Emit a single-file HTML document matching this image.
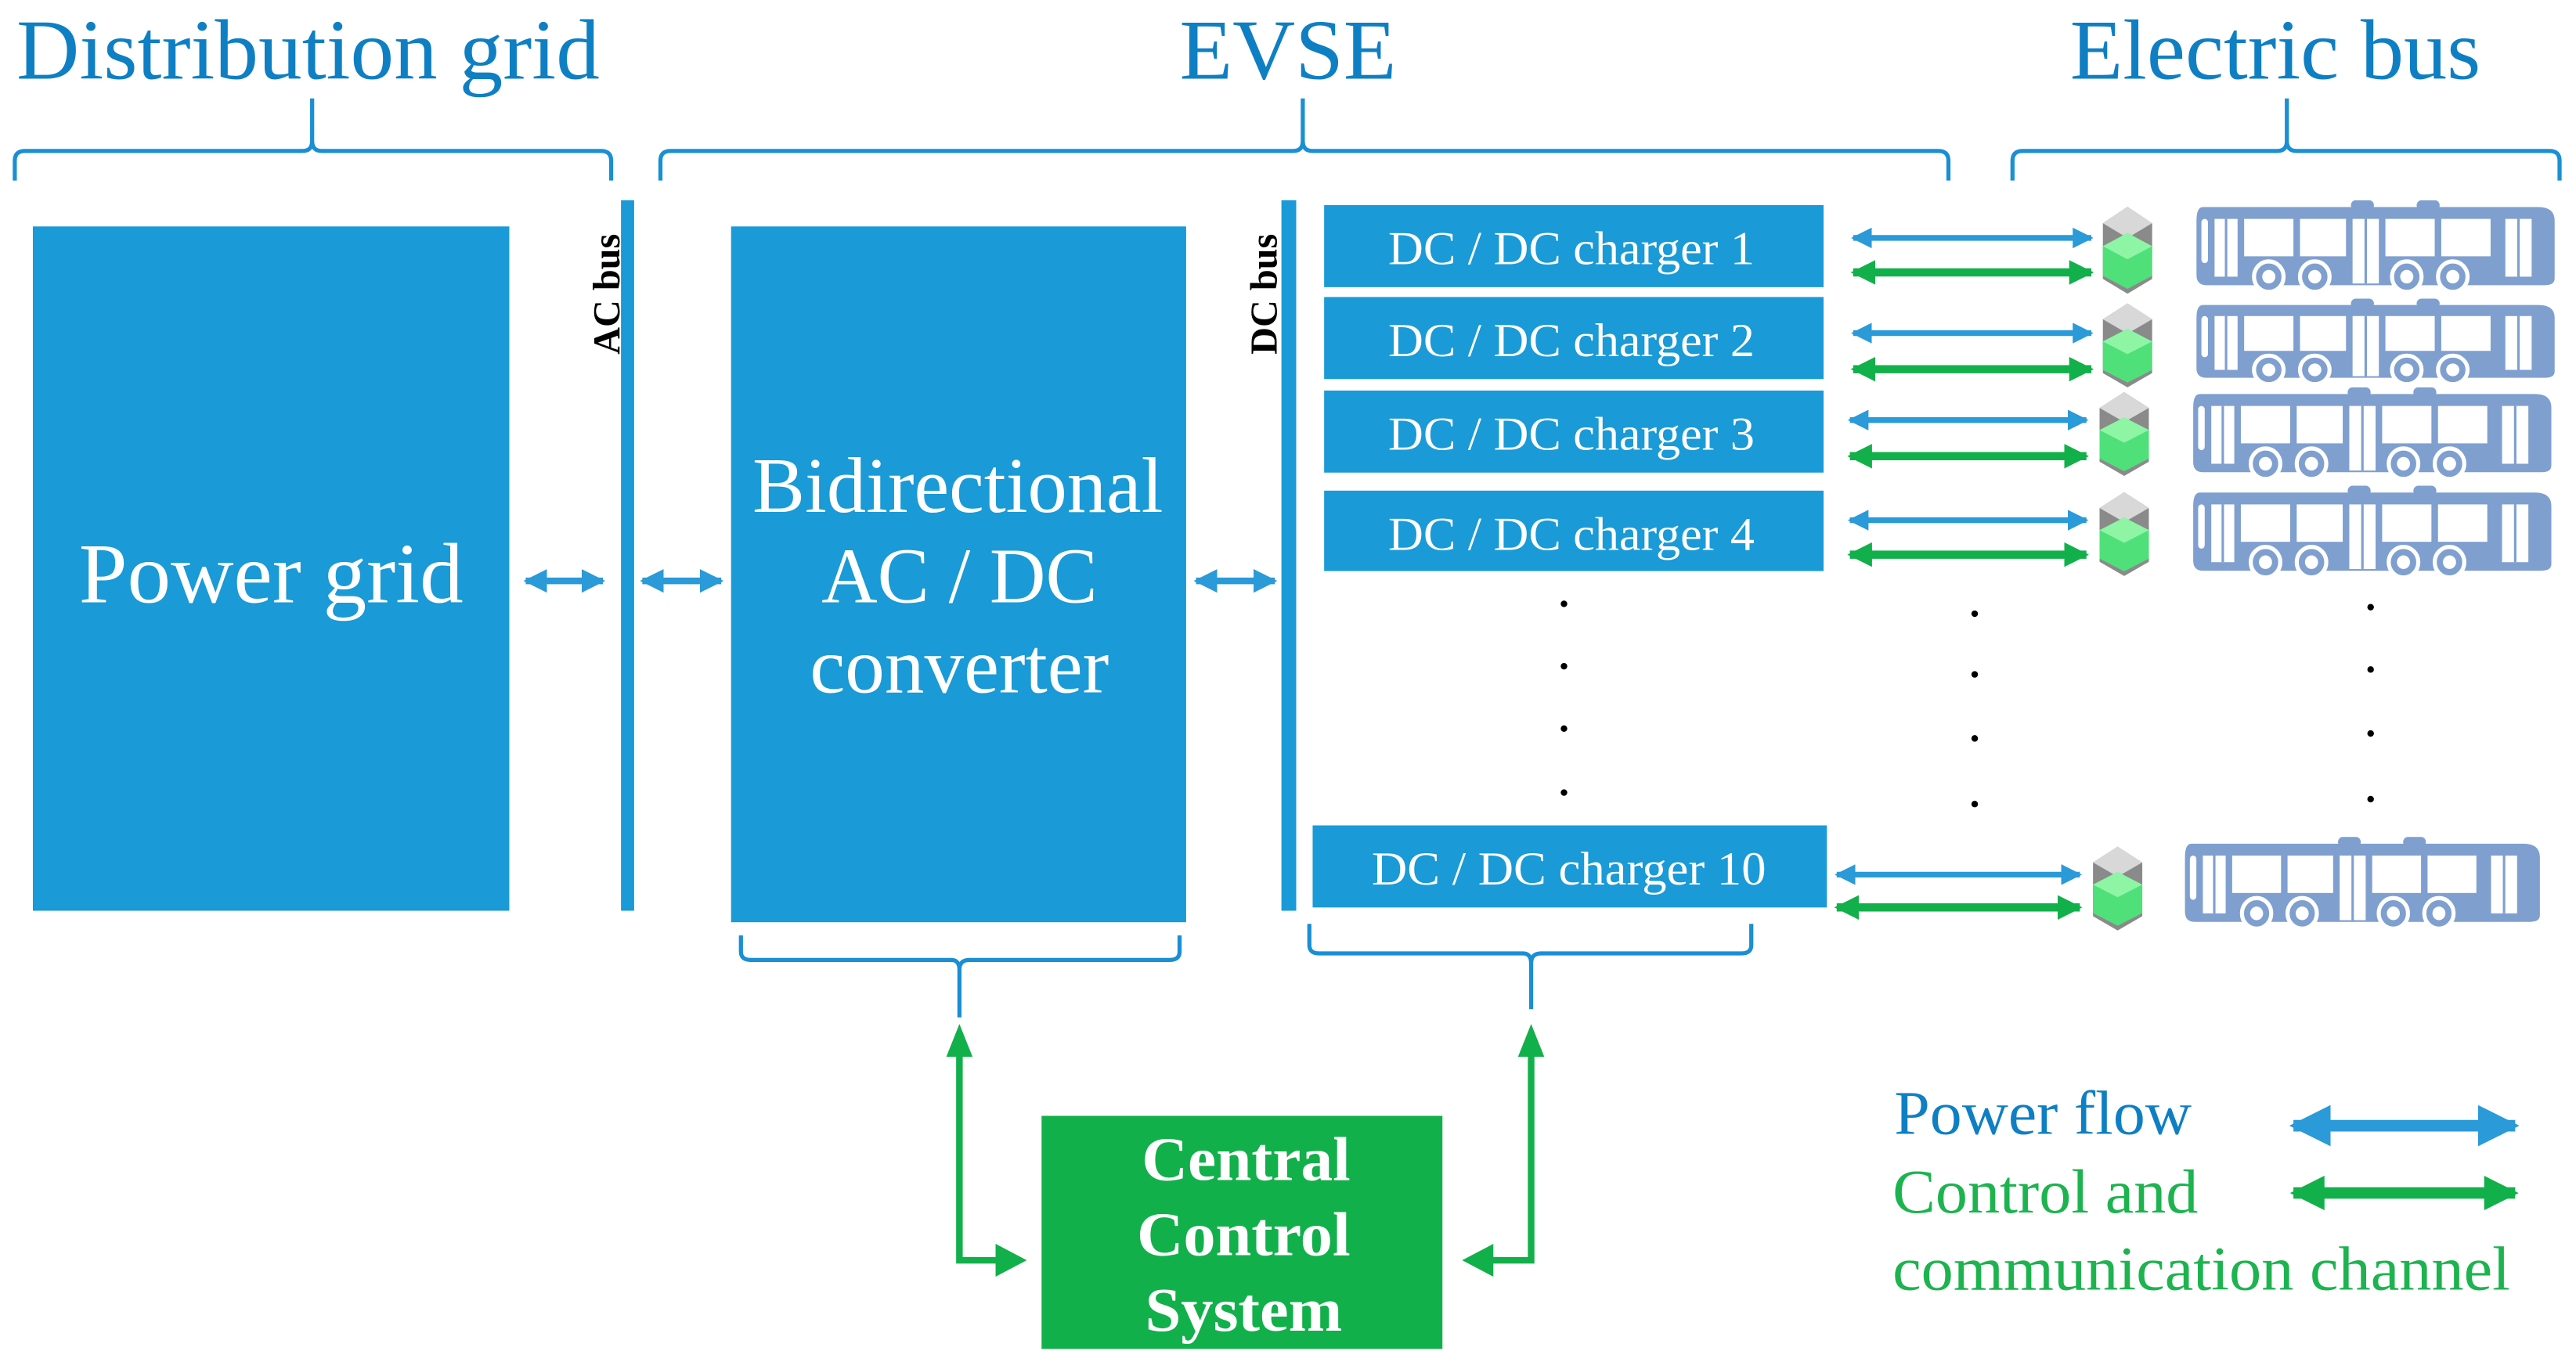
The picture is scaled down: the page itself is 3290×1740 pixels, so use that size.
<!DOCTYPE html>
<html><head><meta charset="utf-8"><style>
html,body{margin:0;padding:0;background:#fff;}
svg{display:block;}
text{font-family:"Liberation Serif",serif;}
</style></head><body>
<svg width="3290" height="1740" viewBox="0 0 1568 830" preserveAspectRatio="none" xmlns="http://www.w3.org/2000/svg">
<defs>
<marker id="bh" viewBox="0 0 10 10" refX="9" refY="5" markerWidth="3.6" markerHeight="3.6" orient="auto-start-reverse"><path d="M0,0 L10,5 L0,10 Z" fill="#2a9ad8"/></marker>
<marker id="gh" viewBox="0 0 10 10" refX="9" refY="5" markerWidth="3" markerHeight="3" orient="auto-start-reverse"><path d="M0,0 L10,5 L0,10 Z" fill="#12b04a"/></marker>
<symbol id="bus" viewBox="0 0 222 56" preserveAspectRatio="none">
<path d="M6,4 H210 Q220,4 220,12 V46 Q220,50 214,50 H8 Q2,50 2,44 V12 Q2,4 6,4 Z" fill="#7f9fcf"/>
<rect x="96" y="0" width="14" height="6" rx="3" fill="#7f9fcf"/><rect x="136" y="0" width="14" height="6" rx="3" fill="#7f9fcf"/>
<rect x="5" y="11" width="4" height="26" rx="2" fill="#fff"/>
<rect x="13" y="11" width="14" height="34" fill="#fff"/><line x1="20" y1="11" x2="20" y2="45" stroke="#7f9fcf" stroke-width="1.5"/>
<rect x="31" y="11" width="30" height="22" fill="#fff"/><rect x="65" y="11" width="28" height="22" fill="#fff"/>
<rect x="97" y="11" width="16" height="38" fill="#fff"/><line x1="105" y1="11" x2="105" y2="49" stroke="#7f9fcf" stroke-width="1.5"/>
<rect x="117" y="11" width="30" height="22" fill="#fff"/><rect x="151" y="11" width="30" height="22" fill="#fff"/>
<rect x="190" y="11" width="16" height="34" fill="#fff"/><line x1="198" y1="11" x2="198" y2="45" stroke="#7f9fcf" stroke-width="1.5"/>
<g fill="#7f9fcf" stroke="#fff" stroke-width="2.5"><circle cx="46" cy="45" r="9"/><circle cx="74" cy="45" r="9"/><circle cx="130" cy="45" r="9"/><circle cx="158" cy="45" r="9"/></g>
<g fill="#fff"><circle cx="46" cy="45" r="4"/><circle cx="74" cy="45" r="4"/><circle cx="130" cy="45" r="4"/><circle cx="158" cy="45" r="4"/></g>
</symbol>
<symbol id="bat" viewBox="0 0 34 56" preserveAspectRatio="none">
<polygon points="17,2 32,12 32,46 17,55 2,46 2,12" fill="#8a8a8a"/>
<polygon points="17,2 32,12 17,21 2,12" fill="#d8d8d8"/>
<polygon points="2,26 17,18 32,26 32,44 17,52 2,44" fill="#4fe07a"/>
<polygon points="2,26 17,18 32,26 17,34" fill="#8ef5a5"/>
</symbol>
</defs>

<!-- titles -->
<g fill="#0f7fc4" font-size="52">
<text x="10" y="48" textLength="355" lengthAdjust="spacingAndGlyphs">Distribution grid</text>
<text x="718" y="48" textLength="132" lengthAdjust="spacingAndGlyphs">EVSE</text>
<text x="1260" y="48" textLength="250" lengthAdjust="spacingAndGlyphs">Electric bus</text>
</g>
<!-- top braces -->
<g fill="none" stroke="#1a8fd4" stroke-width="2.5">
<path d="M9,110 V98 Q9,92 15,92 H184 Q190,92 190,86 V60 M190,86 Q190,92 196,92 H366 Q372,92 372,98 V110"/>
<path d="M402,110 V98 Q402,92 408,92 H787 Q793,92 793,86 V60 M793,86 Q793,92 799,92 H1180 Q1186,92 1186,98 V110"/>
<path d="M1225,110 V98 Q1225,92 1231,92 H1386 Q1392,92 1392,86 V60 M1392,86 Q1392,92 1398,92 H1552 Q1558,92 1558,98 V110"/>
</g>

<!-- power grid -->
<rect x="20" y="138" width="290" height="417" fill="#1a9ad6"/>
<text x="48" y="367" fill="#fff" font-size="52" textLength="234" lengthAdjust="spacingAndGlyphs">Power grid</text>
<!-- AC bus -->
<rect x="378" y="122" width="8" height="433" fill="#1a9ad6"/>
<text transform="translate(377,216) rotate(-90)" font-size="23" font-weight="bold" fill="#000">AC bus</text>
<!-- converter -->
<rect x="445" y="138" width="277" height="424" fill="#1a9ad6"/>
<g fill="#fff" font-size="48">
<text x="458" y="312" textLength="250" lengthAdjust="spacingAndGlyphs">Bidirectional</text>
<text x="500" y="367" textLength="168" lengthAdjust="spacingAndGlyphs">AC / DC</text>
<text x="493" y="422" textLength="182" lengthAdjust="spacingAndGlyphs">converter</text>
</g>
<!-- DC bus -->
<rect x="780" y="122" width="9" height="433" fill="#1a9ad6"/>
<text transform="translate(777,216) rotate(-90)" font-size="23" font-weight="bold" fill="#000">DC bus</text>

<!-- power arrows -->
<g stroke="#2a9ad8" stroke-width="4" marker-start="url(#bh)" marker-end="url(#bh)">
<line x1="320" y1="354" x2="367" y2="354"/>
<line x1="391" y1="354" x2="439" y2="354"/>
<line x1="728" y1="354" x2="776" y2="354"/>
</g>

<!-- chargers -->
<g fill="#1a9ad6">
<rect x="806" y="125" width="304" height="50"/>
<rect x="806" y="181" width="304" height="50"/>
<rect x="806" y="238" width="304" height="50"/>
<rect x="806" y="299" width="304" height="49"/>
<rect x="799" y="503" width="313" height="50"/>
</g>
<g fill="#fff" font-size="29">
<text x="845" y="161" textLength="223" lengthAdjust="spacingAndGlyphs">DC / DC charger 1</text>
<text x="845" y="217" textLength="223" lengthAdjust="spacingAndGlyphs">DC / DC charger 2</text>
<text x="845" y="274" textLength="223" lengthAdjust="spacingAndGlyphs">DC / DC charger 3</text>
<text x="845" y="335" textLength="223" lengthAdjust="spacingAndGlyphs">DC / DC charger 4</text>
<text x="835" y="539" textLength="240" lengthAdjust="spacingAndGlyphs">DC / DC charger 10</text>
</g>

<!-- row arrows -->
<g stroke="#2a9ad8" stroke-width="3.5" marker-start="url(#bh)" marker-end="url(#bh)">
<line x1="1128" y1="145" x2="1273" y2="145"/>
<line x1="1128" y1="203" x2="1273" y2="203"/>
<line x1="1126" y1="256" x2="1270" y2="256"/>
<line x1="1126" y1="317" x2="1270" y2="317"/>
<line x1="1118" y1="533" x2="1266" y2="533"/>
</g>
<g stroke="#12b04a" stroke-width="5" marker-start="url(#gh)" marker-end="url(#gh)">
<line x1="1128" y1="166" x2="1273" y2="166"/>
<line x1="1128" y1="225" x2="1273" y2="225"/>
<line x1="1126" y1="278" x2="1270" y2="278"/>
<line x1="1126" y1="338" x2="1270" y2="338"/>
<line x1="1118" y1="553" x2="1266" y2="553"/>
</g>

<!-- batteries -->
<use href="#bat" x="1278" y="124" width="34" height="56"/>
<use href="#bat" x="1278" y="183" width="34" height="54"/>
<use href="#bat" x="1276" y="237" width="34" height="54"/>
<use href="#bat" x="1276" y="298" width="34" height="54"/>
<use href="#bat" x="1272" y="514" width="34" height="54"/>

<!-- buses -->
<use href="#bus" x="1335" y="122" width="222" height="58"/>
<use href="#bus" x="1335" y="182" width="222" height="54"/>
<use href="#bus" x="1333" y="236" width="222" height="58"/>
<use href="#bus" x="1333" y="296" width="222" height="58"/>
<use href="#bus" x="1328" y="510" width="220" height="58"/>

<!-- dots -->
<g fill="#000">
<circle cx="952" cy="368" r="2"/><circle cx="952" cy="406" r="2"/><circle cx="952" cy="444" r="2"/><circle cx="952" cy="483" r="2"/>
<circle cx="1202" cy="374" r="2"/><circle cx="1202" cy="411" r="2"/><circle cx="1202" cy="450" r="2"/><circle cx="1202" cy="490" r="2"/>
<circle cx="1443" cy="370" r="2"/><circle cx="1443" cy="408" r="2"/><circle cx="1443" cy="447" r="2"/><circle cx="1443" cy="487" r="2"/>
</g>

<!-- bottom braces -->
<g fill="none" stroke="#1a8fd4" stroke-width="2.5">
<path d="M451,570 V580 Q451,585 457,585 H579 Q584,585 584,591 V620 M584,591 Q584,585 590,585 H712 Q718,585 718,580 V570"/>
<path d="M797,563 V576 Q797,581 803,581 H927 Q932,581 932,587 V615 M932,587 Q932,581 938,581 H1060 Q1066,581 1066,576 V563"/>
</g>

<!-- green control connectors -->
<g fill="none" stroke="#12b04a" stroke-width="4">
<path d="M584,640 V768 H610"/>
<path d="M932,640 V768 H905"/>
</g>
<g fill="#12b04a">
<polygon points="584,624 576,644 592,644"/>
<polygon points="932,624 924,644 940,644"/>
<polygon points="625,768 606,758 606,778"/>
<polygon points="890,768 909,758 909,778"/>
</g>

<!-- central control -->
<rect x="634" y="680" width="244" height="142" fill="#12b04a"/>
<g fill="#fff" font-size="38" font-weight="bold">
<text x="695" y="719" textLength="127" lengthAdjust="spacingAndGlyphs">Central</text>
<text x="692" y="765" textLength="130" lengthAdjust="spacingAndGlyphs">Control</text>
<text x="697" y="811" textLength="120" lengthAdjust="spacingAndGlyphs">System</text>
</g>

<!-- legend -->
<text x="1153" y="691" fill="#0f7fc4" font-size="38" textLength="181" lengthAdjust="spacingAndGlyphs">Power flow</text>
<text x="1152" y="739" fill="#1db34f" font-size="38" textLength="186" lengthAdjust="spacingAndGlyphs">Control and</text>
<text x="1152" y="786" fill="#1db34f" font-size="38" textLength="376" lengthAdjust="spacingAndGlyphs">communication  channel</text>
<g stroke="#2a9ad8" stroke-width="7" marker-start="url(#bh)" marker-end="url(#bh)">
<line x1="1396" y1="686" x2="1531" y2="686"/>
</g>
<g stroke="#12b04a" stroke-width="7" marker-start="url(#gh)" marker-end="url(#gh)">
<line x1="1396" y1="727" x2="1531" y2="727"/>
</g>
</svg>
</body></html>
